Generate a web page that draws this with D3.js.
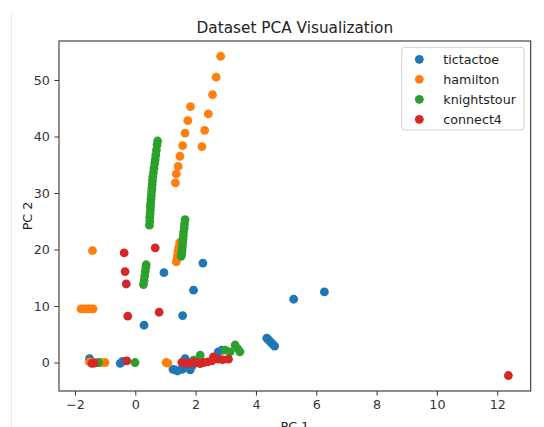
<!DOCTYPE html>
<html>
<head>
<meta charset="utf-8">
<script src="https://cdn.jsdelivr.net/npm/d3@7/dist/d3.min.js"></script>
<style>
  html, body { margin: 0; padding: 0; background: #fff; }
  svg { display: block; font-family: "DejaVu Sans", sans-serif; }
</style>
</head>
<body>
<svg id="chart" width="544" height="427"></svg>
<script>
const seriesNames = ["tictactoe", "hamilton", "knightstour", "connect4"];
const seriesColors = ["#1f77b4", "#ff7f0e", "#2ca02c", "#d62728"];
const xTicks = [-2, 0, 2, 4, 6, 8, 10, 12];
const yTicks = [0, 10, 20, 30, 40, 50];
const xDomain = [-2.53, 13.11];
const yDomain = [-5.04, 56.9];

const tictactoe = [
  [-1.52, 0.7], [-1.45, 0.2], [-0.50, -0.15], [-0.42, 0.2],
  [1.25, -1.2], [1.40, -1.5], [1.55, -1.2], [1.70, -0.9], [1.32, -1.3], [1.82, -1.3], [1.65, 0.7], [1.90, -0.5],
  [2.75, 1.9], [2.87, 2.2],
  [4.36, 4.3], [4.42, 4.0], [4.47, 3.7], [4.53, 3.4], [4.58, 3.1], [4.62, 2.9],
  [5.25, 11.2], [6.27, 12.5],
  [2.24, 17.6], [0.95, 15.9], [1.93, 12.8], [1.57, 8.3], [0.29, 6.6]
];
const hamilton = [
  [2.83, 54.2], [2.68, 50.5], [2.56, 47.4], [2.42, 44.0], [2.30, 41.1], [2.21, 38.2],
  [1.83, 45.3], [1.74, 42.8], [1.65, 40.6], [1.57, 38.4], [1.48, 36.5], [1.42, 34.7], [1.36, 33.4], [1.33, 31.8],
  [1.36, 17.8], [1.38, 18.4], [1.40, 19.0], [1.42, 19.7], [1.44, 20.4], [1.47, 21.2],
  [-1.42, 19.8],
  [-1.80, 9.5], [-1.72, 9.5], [-1.64, 9.5], [-1.56, 9.5], [-1.48, 9.5], [-1.40, 9.5],
  [-1.52, 0.1], [-1.35, 0.0], [-1.15, 0.0], [-1.00, 0.0],
  [1.02, 0.0], [1.08, -0.1]
];
const knightstour = [
  [0.47, 24.3], [0.48, 25.0], [0.48, 25.7], [0.49, 26.3], [0.50, 27.0], [0.50, 27.6], [0.51, 28.2],
  [0.52, 28.9], [0.53, 29.5], [0.54, 30.2], [0.55, 30.8], [0.56, 31.5], [0.57, 32.2], [0.58, 32.9],
  [0.60, 33.6], [0.62, 34.4], [0.64, 35.2], [0.66, 35.9], [0.68, 36.7], [0.70, 37.6], [0.72, 38.5], [0.74, 39.2],
  [1.52, 18.8], [1.54, 19.3], [1.55, 19.9], [1.56, 20.5], [1.57, 21.2], [1.58, 21.8], [1.59, 22.4],
  [1.60, 23.1], [1.62, 23.8], [1.63, 24.5], [1.65, 25.3],
  [0.27, 13.8], [0.29, 14.5], [0.31, 15.3], [0.33, 16.1], [0.35, 16.8], [0.36, 17.3],
  [-1.22, 0.0], [-0.01, 0.0],
  [1.93, 0.4], [2.15, 1.3], [2.98, 2.2], [3.14, 1.9], [3.31, 3.1], [3.47, 1.9], [3.40, 2.4]
];
const connect4 = [
  [-0.37, 19.4], [0.66, 20.3], [-0.34, 16.1], [-0.30, 13.9], [-0.25, 8.2], [0.79, 8.9],
  [-1.44, -0.15], [-1.36, -0.1], [-0.28, 0.3],
  [1.54, 0.0], [1.68, -0.1], [1.82, -0.1], [1.94, 0.0], [2.04, 0.0], [2.15, -0.2], [2.26, 0.0],
  [2.40, 0.1], [2.54, 0.3], [2.59, 1.0], [2.75, 0.6], [2.90, 0.5], [3.09, 0.6],
  [12.37, -2.3]
];
const seriesData = [tictactoe, hamilton, knightstour, connect4];

const W = 544, H = 427;
const plot = { left: 59, right: 530.7, top: 41, bottom: 391 };
const svg = d3.select("#chart");

svg.append("rect").attr("width", W).attr("height", H).attr("fill", "#fff");
// faint screenshot edge line
svg.append("line").attr("x1", 11.5).attr("x2", 11.5).attr("y1", 12).attr("y2", H)
  .attr("stroke", "#ebebeb").attr("stroke-width", 1);

const x = d3.scaleLinear().domain(xDomain).range([plot.left, plot.right]);
const y = d3.scaleLinear().domain(yDomain).range([plot.bottom, plot.top]);

const fontTick = 12.7;

// points
const g = svg.append("g");
seriesData.forEach((data, i) => {
  g.selectAll(null).data(data).enter().append("circle")
    .attr("cx", d => x(d[0])).attr("cy", d => y(d[1]))
    .attr("r", 4.4).attr("fill", seriesColors[i]);
});

// axes
const xAxis = d3.axisBottom(x).tickValues(xTicks).tickSize(4.6).tickPadding(4.5)
  .tickFormat(d => d < 0 ? "\u2212" + Math.abs(d) : String(d));
const yAxis = d3.axisLeft(y).tickValues(yTicks).tickSize(4.6).tickPadding(4.5);

const gx = svg.append("g").attr("transform", `translate(0,${plot.bottom})`).call(xAxis);
const gy = svg.append("g").attr("transform", `translate(${plot.left},0)`).call(yAxis);
[gx, gy].forEach(a => {
  a.select(".domain").remove();
  a.selectAll(".tick line").attr("stroke", "#333").attr("stroke-width", 1);
  a.selectAll(".tick text").attr("fill", "#333").style("font-size", fontTick + "px")
    .style("font-family", "DejaVu Sans");
});

// frame
svg.append("rect").attr("x", plot.left).attr("y", plot.top)
  .attr("width", plot.right - plot.left).attr("height", plot.bottom - plot.top)
  .attr("fill", "none").attr("stroke", "#333").attr("stroke-width", 1.1);

// title & labels
svg.append("text").attr("x", (plot.left + plot.right) / 2).attr("y", 33)
  .attr("text-anchor", "middle").style("font-size", "15.3px").attr("fill", "#222")
  .text("Dataset PCA Visualization");
svg.append("text").attr("x", (plot.left + plot.right) / 2).attr("y", 431)
  .attr("text-anchor", "middle").style("font-size", fontTick + "px").attr("fill", "#222")
  .text("PC 1");
svg.append("text").attr("transform", `translate(32,${(plot.top + plot.bottom) / 2}) rotate(-90)`)
  .attr("text-anchor", "middle").style("font-size", fontTick + "px").attr("fill", "#222")
  .text("PC 2");

// legend
const leg = svg.append("g");
leg.append("rect").attr("x", 401.7).attr("y", 47.3).attr("width", 524 - 401.7).attr("height", 130 - 47.3)
  .attr("rx", 3).attr("fill", "#fff").attr("fill-opacity", 0.8).attr("stroke", "#d0d0d0").attr("stroke-width", 1);
seriesNames.forEach((name, i) => {
  const cy = 59.3 + i * 20;
  leg.append("circle").attr("cx", 419.3).attr("cy", cy).attr("r", 4.4).attr("fill", seriesColors[i]);
  leg.append("text").attr("x", 443.3).attr("y", cy).attr("dy", "0.36em")
    .style("font-size", fontTick + "px").attr("fill", "#222").text(name);
});
</script>
</body>
</html>
